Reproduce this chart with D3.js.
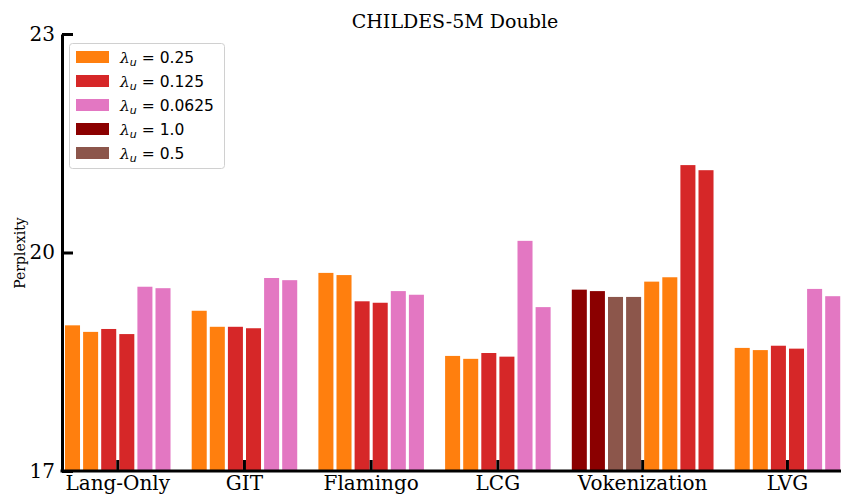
<!DOCTYPE html>
<html>
<head>
<meta charset="utf-8">
<script src="https://cdn.jsdelivr.net/npm/d3@7"></script>
<style>
  body { margin: 0; background: #fff; }
  svg { display: block; }
</style>
</head>
<body>
<svg id="chart"></svg>
<script>
const width = 841;
const height = 495;

// data
const groups = ['Lang-Only', 'GIT', 'Flamingo', 'LCG', 'Vokenization', 'LVG'];
const langOnly     = [19.00, 18.91, 18.95, 18.88, 19.53, 19.51];
const git          = [19.20, 18.98, 18.98, 18.96, 19.65, 19.62];
const flamingo     = [19.72, 19.69, 19.33, 19.31, 19.47, 19.42];
const lcg          = [18.58, 18.54, 18.62, 18.57, 20.16, 19.25];
const vokenization = [19.49, 19.47, 19.39, 19.39, 19.60, 19.66, 21.20, 21.13];
const lvg          = [18.69, 18.66, 18.72, 18.68, 19.50, 19.40];

const std6 = ['0.25', '0.25', '0.125', '0.125', '0.0625', '0.0625'];
const vok8 = ['1.0', '1.0', '0.5', '0.5', '0.25', '0.25', '0.125', '0.125'];
const groupValues = [langOnly, git, flamingo, lcg, vokenization, lvg];
const groupLambdas = [std6, std6, std6, std6, vok8, std6];

const legendLambdas = ['0.25', '0.125', '0.0625', '1.0', '0.5'];
const legendColors = ['#ff7f0e', '#d62728', '#e377c2', '#8b0000', '#8c564b'];
const yTicks = [17, 20, 23];

const color = d3.scaleOrdinal().domain(legendLambdas).range(legendColors);

// flatten into slots, one empty slot between groups
let bars = [];
let centers = [];
let slot = 0;
groupValues.forEach((vals, gi) => {
    let first = slot;
    vals.forEach((v, i) => {
        bars.push({group: groups[gi], slot: slot, value: v, lambda: groupLambdas[gi][i]});
        slot++;
    });
    centers.push({name: groups[gi], a: first, b: slot - 1});
    slot++;
});
const nSlots = slot - 1;

const plotLeft = 62, plotTop = 34, plotBottom = 471;
const x = d3.scaleBand().domain(d3.range(nSlots))
    .range([65, 65 + 18.1 * (nSlots - 0.17)])
    .paddingInner(0.17).paddingOuter(0);
const y = d3.scaleLinear().domain([17, 23]).range([plotBottom, plotTop]);

const svg = d3.select('#chart').attr('width', width).attr('height', height);

svg.append('g').selectAll('rect').data(bars).enter().append('rect')
    .attr('x', d => x(d.slot))
    .attr('y', d => y(d.value))
    .attr('width', x.bandwidth())
    .attr('height', d => y(17) - y(d.value))
    .attr('fill', d => color(d.lambda));

// y axis
const yAxis = svg.append('g').attr('transform', `translate(${plotLeft},0)`)
    .call(d3.axisLeft(y).tickValues(yTicks).tickFormat(d3.format('d'))
        .tickSizeInner(-11).tickSizeOuter(0).tickPadding(7));
yAxis.select('.domain').attr('stroke', '#000').attr('stroke-width', 3);
yAxis.selectAll('.tick line').attr('stroke-width', 3);
yAxis.selectAll('.tick text')
    .attr('x', -7)
    .attr('font-family', 'DejaVu Serif').attr('font-size', 20).attr('fill', '#000');

// x axis
const xPos = d3.scaleOrdinal().domain(groups)
    .range(centers.map(c => (x(c.a) + x(c.b) + x.bandwidth()) / 2));
const xAxis = svg.append('g').attr('transform', `translate(0,${plotBottom})`);
xAxis.append('line')
    .attr('x1', plotLeft - 1.5).attr('x2', width)
    .attr('stroke', '#000').attr('stroke-width', 3);
xAxis.selectAll('.tk').data(groups).enter().append('line')
    .attr('x1', d => xPos(d)).attr('x2', d => xPos(d))
    .attr('y1', 0).attr('y2', -11)
    .attr('stroke', '#000').attr('stroke-width', 3);
xAxis.selectAll('.lbl').data(groups).enter().append('text')
    .attr('x', d => xPos(d)).attr('y', 19)
    .attr('text-anchor', 'middle')
    .attr('font-family', 'DejaVu Serif').attr('font-size', 20)
    .text(d => d);

// labels
svg.append('text')
    .attr('x', 455).attr('y', 28)
    .attr('text-anchor', 'middle')
    .attr('font-family', 'DejaVu Serif').attr('font-size', 19)
    .text('CHILDES-5M Double');

svg.append('text')
    .attr('transform', 'translate(25,253) rotate(-90)')
    .attr('text-anchor', 'middle')
    .attr('font-family', 'DejaVu Serif').attr('font-size', 14)
    .text('Perplexity');

// legend
const legend = svg.append('g');
legend.append('rect')
    .attr('x', 69.5).attr('y', 43.5).attr('width', 155).attr('height', 125)
    .attr('rx', 3)
    .attr('fill', '#fff').attr('fill-opacity', 0.8)
    .attr('stroke', '#d0d0d0').attr('stroke-width', 1);
const item = legend.selectAll('.item').data(legendLambdas).enter().append('g')
    .attr('transform', (d, i) => `translate(0,${57 + i * 24})`);
item.append('rect')
    .attr('x', 76).attr('y', -6).attr('width', 33).attr('height', 12)
    .attr('fill', d => color(d));
const lt = item.append('text')
    .attr('x', 120).attr('y', 5.5)
    .attr('font-family', 'DejaVu Sans').attr('font-size', 15.5);
lt.append('tspan').attr('font-family', 'DejaVu Serif').attr('font-style', 'italic').text('λ');
lt.append('tspan').attr('font-style', 'italic').attr('font-size', 11).attr('dy', 3).text('u');
lt.append('tspan').attr('dy', -3).text(d => ' = ' + d);
</script>
</body>
</html>
